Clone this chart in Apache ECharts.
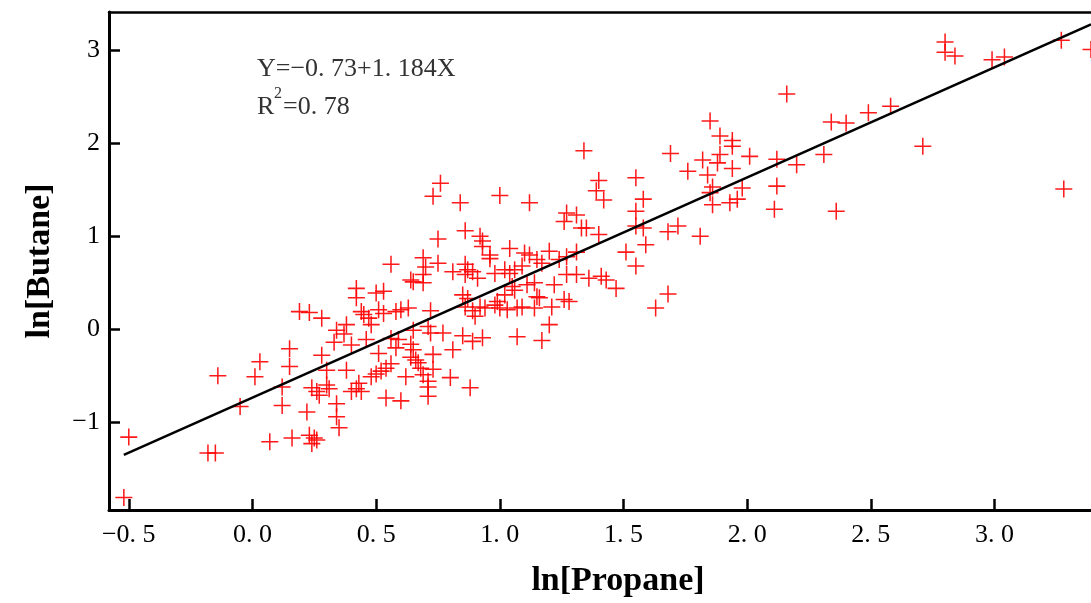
<!DOCTYPE html>
<html>
<head>
<meta charset="utf-8">
<script src="https://cdn.jsdelivr.net/npm/echarts@6/dist/echarts.min.js"></script>
<style>
  html, body { margin: 0; padding: 0; background: #fff; }
  #chart { width: 1091px; height: 603px; }
</style>
</head>
<body>
<div id="chart"></div>
<script>
// ln[Propane] / ln[Butane] pairs
const lnPropane = [
  -0.50, -0.52, -0.14, -0.05, -0.18, -0.15,
  0.03, 0.01, 0.15, 0.15, 0.12, 0.12, 0.19, 0.23, 0.28, 0.07,
  0.16, 0.23, 0.25, 0.26, 0.24, 0.22, 0.24, 0.26, 0.27, 0.30,
  0.31, 0.28, 0.30, 0.34, 0.34, 0.35, 0.33, 0.34, 0.37, 0.38,
  0.38, 0.40, 0.42, 0.44, 0.43, 0.42, 0.42, 0.40, 0.46, 0.44,
  0.45, 0.47, 0.48, 0.50, 0.48, 0.50, 0.53, 0.51, 0.53, 0.51,
  0.76, 0.73, 0.84, 1.00, 0.86, 0.92, 0.93, 0.93, 0.75, 0.96,
  0.96, 0.56, 0.69, 0.70, 0.69, 0.69, 0.75, 0.86, 0.87, 0.86,
  0.89, 0.91, 0.81, 0.64, 0.65, 0.98, 0.85, 0.87, 0.58, 0.60,
  0.63, 0.72, 0.86, 0.89, 0.90, 0.92, 0.94, 0.98, 0.71, 0.72,
  0.65, 0.56, 0.59, 0.77, 0.85, 0.89, 0.93, 0.81, 0.73, 0.64,
  0.65, 0.64, 0.66, 0.67, 0.68, 0.58, 0.56, 0.54, 0.52, 0.69,
  0.71, 0.73, 0.62, 0.80, 0.88, 0.71, 0.71, 0.54, 0.60,
  1.12, 1.34, 1.69, 1.82, 1.76, 1.84, 1.40, 1.39, 1.42, 1.55,
  1.58, 1.55, 1.27, 1.31, 1.26, 1.33, 1.35, 1.40, 1.55, 1.58,
  1.68, 1.72, 1.81, 1.59, 1.51, 1.55, 1.04, 1.10, 1.12, 1.20,
  1.31, 1.15, 1.17, 1.24, 1.27, 1.02, 1.04, 1.06, 1.09, 1.27,
  1.31, 1.36, 1.41, 1.43, 1.47, 1.22, 1.14, 1.11, 1.05, 1.06,
  1.02, 0.99, 1.15, 1.16, 1.26, 1.28, 1.00, 1.03, 1.07, 1.09,
  1.14, 1.21, 1.20, 1.07, 1.17, 1.68, 1.63,
  1.85, 1.89, 1.94, 1.94, 1.89, 1.88, 2.01, 1.94, 2.12, 2.31,
  2.20, 2.34, 2.40, 2.49, 2.58, 2.16, 2.71, 1.86, 1.85, 1.98,
  1.96, 1.93, 1.86, 2.12, 2.11, 2.36, 2.80, 2.80, 2.84, 2.99,
  3.04, 3.27, 3.39, 3.28
];
const lnButane = [
  -1.16, -1.81, -0.50, -0.83, -1.33, -1.33,
  -0.35, -0.51, -0.21, -0.40, -0.62, -0.82, 0.19, 0.18, 0.12, -1.21,
  -1.17, -1.14, -1.17, -1.19, -1.23, -0.89, -0.63, -0.67, -0.71, -0.60,
  -0.64, -0.28, -0.44, -0.80, -0.94, -1.06, -0.14, -0.01, -0.05, 0.05,
  -0.44, -0.67, -0.64, -0.67, -0.58, 0.44, 0.34, -0.17, -0.11, 0.19,
  0.16, 0.12, -0.51, -0.48, 0.05, 0.39, 0.41, 0.21, 0.17, -0.26,
  1.57, 1.43, 1.36, 1.44, 1.06, 1.00, 0.95, 0.89, 0.97, 0.80,
  0.76, 0.70, 0.77, 0.67, 0.59, 0.50, 0.71, 0.70, 0.64, 0.59,
  0.62, 0.55, 0.62, 0.53, 0.51, 0.60, 0.37, 0.33, 0.19, 0.21,
  0.23, 0.20, 0.24, 0.20, 0.14, 0.24, 0.23, 0.26, 0.03, -0.04,
  -0.01, -0.10, -0.11, -0.04, -0.07, -0.13, -0.09, -0.22, -0.27, -0.16,
  -0.22, -0.30, -0.33, -0.36, -0.42, -0.20, -0.37, -0.42, -0.45, -0.49,
  -0.56, -0.43, -0.51, -0.52, -0.63, -0.62, -0.72, -0.74, -0.77,
  1.36, 1.92, 1.89, 1.82, 1.70, 1.66, 1.60, 1.49, 1.39, 1.63,
  1.40, 1.27, 1.25, 1.23, 1.16, 1.09, 1.09, 1.02, 1.11, 1.09,
  1.05, 1.11, 1.00, 0.91, 0.83, 0.68, 0.87, 0.82, 0.80, 0.84,
  0.83, 0.75, 0.71, 0.75, 0.78, 0.64, 0.60, 0.64, 0.68, 0.59,
  0.59, 0.55, 0.57, 0.53, 0.44, 0.48, 0.50, 0.48, 0.46, 0.42,
  0.37, 0.30, 0.35, 0.34, 0.32, 0.30, 0.23, 0.21, 0.23, 0.24,
  0.23, 0.24, 0.05, -0.08, -0.12, 0.38, 0.23,
  2.24, 2.08, 2.03, 1.97, 1.88, 1.79, 1.86, 1.73, 1.83, 1.88,
  1.77, 2.23, 2.22, 2.33, 2.40, 2.53, 1.97, 1.53, 1.47, 1.52,
  1.40, 1.36, 1.34, 1.54, 1.29, 1.27, 3.09, 2.98, 2.94, 2.90,
  2.93, 3.11, 3.01, 1.51
];

// fitted line Y = -0.73 + 1.184X, end points as drawn
const fitX = [-0.52, 3.39];
const fitY = [-1.35, 3.28];

const xTicks = [-0.5, 0, 0.5, 1, 1.5, 2, 2.5, 3];
const yTicks = [-1, 0, 1, 2, 3];

const chart = echarts.init(document.getElementById('chart'));

const font = 'Liberation Serif';
const plus = 'path://M-0.09,-1 L0.09,-1 L0.09,-0.09 L1,-0.09 L1,0.09 L0.09,0.09 L0.09,1 L-0.09,1 L-0.09,0.09 L-1,0.09 L-1,-0.09 L-0.09,-0.09 Z';

const points = lnPropane.map((x, i) => [x, lnButane[i]]);

const option = {
  backgroundColor: '#fff',
  animation: false,
  grid: { left: 109, top: 12, right: 0, bottom: 93 },
  xAxis: [
    {
      type: 'value',
      min: -0.58,
      max: 3.39,
      position: 'bottom',
      name: 'ln[Propane]',
      nameLocation: 'middle',
      nameGap: 54,
      // the frame runs past the right edge, so the title sits right of centre
      nameTextStyle: { fontFamily: font, fontWeight: 'bold', fontSize: 34, color: '#000', padding: [0, 0, 0, 36] },
      axisLine: { show: true, onZero: false, lineStyle: { color: '#000', width: 3 } },
      axisTick: { show: true, inside: true, length: 11, customValues: xTicks, lineStyle: { color: '#000', width: 2.5 } },
      axisLabel: {
        customValues: xTicks,
        margin: 12,
        fontFamily: font,
        fontSize: 26,
        color: '#000',
        formatter: (v) => (v < 0 ? '\u2212' : '') + Math.abs(v).toFixed(1).replace('.', '. '),
      },
      splitLine: { show: false },
    },
    {
      type: 'value',
      min: -0.58,
      max: 3.39,
      position: 'top',
      axisLine: { show: true, onZero: false, lineStyle: { color: '#000', width: 2.5 } },
      axisTick: { show: false },
      axisLabel: { show: false },
      splitLine: { show: false },
    },
  ],
  yAxis: {
    type: 'value',
    min: -1.944,
    max: 3.413,
    name: 'ln[Butane]',
    nameLocation: 'middle',
    nameGap: 52,
    nameRotate: 90,
    nameTextStyle: { fontFamily: font, fontWeight: 'bold', fontSize: 34, color: '#000' },
    axisLine: { show: true, onZero: false, lineStyle: { color: '#000', width: 3 } },
    axisTick: { show: true, inside: true, length: 11, customValues: yTicks, lineStyle: { color: '#000', width: 2.5 } },
    axisLabel: {
      customValues: yTicks,
      margin: 9,
      fontFamily: font,
      fontSize: 26,
      color: '#000',
      formatter: (v) => (v < 0 ? '\u2212' : '') + Math.abs(v),
    },
    splitLine: { show: false },
  },
  graphic: [
    {
      type: 'text', left: 257, top: 56,
      style: { text: 'Y=\u22120. 73+1. 184X', fontFamily: font, fontSize: 26, fill: '#333' },
    },
    {
      type: 'text', left: 257, top: 94,
      style: { text: 'R', fontFamily: font, fontSize: 26, fill: '#333' },
    },
    {
      type: 'text', left: 274, top: 86,
      style: { text: '2', fontFamily: font, fontSize: 16, fill: '#333' },
    },
    {
      type: 'text', left: 283, top: 94,
      style: { text: '=0. 78', fontFamily: font, fontSize: 26, fill: '#333' },
    },
  ],
  series: [
    {
      type: 'scatter',
      data: points,
      symbol: plus,
      symbolSize: 17,
      itemStyle: { color: '#ff0000', opacity: 0.9 },
      z: 2,
    },
    {
      type: 'line',
      data: fitX.map((x, i) => [x, fitY[i]]),
      symbol: 'none',
      lineStyle: { color: '#000', width: 2.5 },
      z: 3,
    },
  ],
};

chart.setOption(option);
</script>
</body>
</html>
